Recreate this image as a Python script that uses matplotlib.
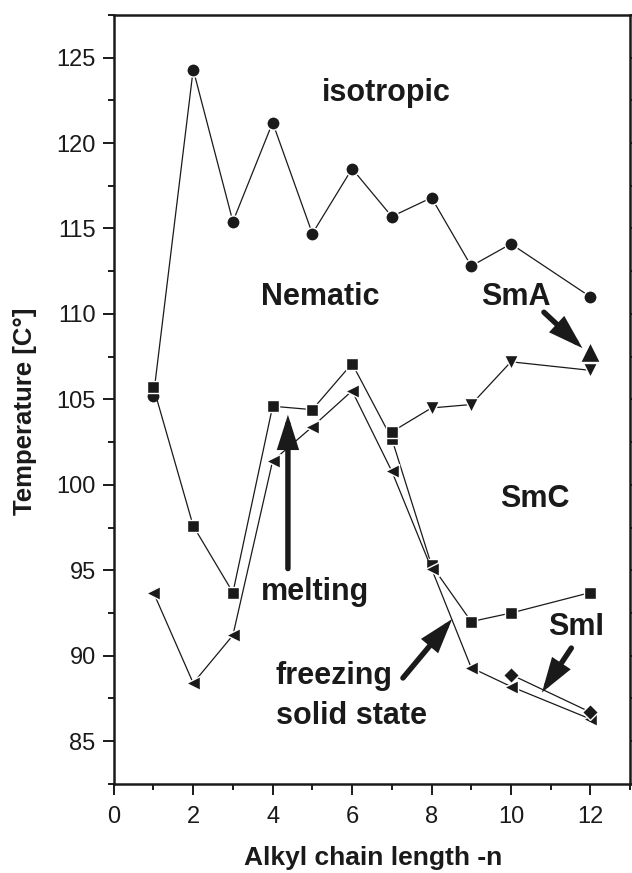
import matplotlib
matplotlib.use("Agg")
import matplotlib.pyplot as plt
from matplotlib.ticker import MultipleLocator

plt.rcParams['font.family'] = ['Liberation Sans', 'DejaVu Sans']

# Data
n_iso = [1, 2, 3, 4, 5, 6, 7, 8, 9, 10, 12]
t_iso = [105.2, 124.3, 115.4, 121.2, 114.7, 118.5, 115.7, 116.8, 112.8, 114.1, 111.0]

n_melt = [1, 2, 3, 4, 5, 6, 7, 8, 9, 10, 12]
t_melt = [105.7, 97.6, 93.7, 104.6, 104.4, 107.1, 102.7, 95.3, 92.0, 92.5, 93.7]

n_smc = [7, 8, 9, 10, 12]
t_smc = [103.1, 104.5, 104.7, 107.2, 106.7]

n_frz = [1, 2, 3, 4, 5, 6, 7, 8, 9, 10, 12]
t_frz = [93.7, 88.4, 91.2, 101.4, 103.4, 105.5, 100.8, 95.1, 89.3, 88.2, 86.3]

n_smi = [10, 12]
t_smi = [88.9, 86.7]

n_sma = [12]
t_sma = [107.8]

xticks = [0, 2, 4, 6, 8, 10, 12]
yticks = [85, 90, 95, 100, 105, 110, 115, 120, 125]

fig = plt.figure(figsize=(6.32, 8.73), dpi=100)
ax = fig.add_axes([0.180, 0.102, 0.817, 0.881])

lw = 0.9
C = '#1a1a1a'
mk = dict(mfc=C, mec='white', mew=1.0)

ax.plot(n_iso, t_iso, '-', color=C, lw=lw, marker='o', ms=9.5, **mk)
ax.plot(n_melt, t_melt, '-', color=C, lw=lw, marker='s', ms=8.5, **mk)
ax.plot(n_smc, t_smc, '-', color=C, lw=lw)
ax.plot(n_smc[:1], t_smc[:1], ls='none', marker='s', ms=8.5, **mk)
ax.plot(n_smc[1:], t_smc[1:], ls='none', marker='v', ms=10.5, **mk)
ax.plot(n_frz, t_frz, '-', color=C, lw=lw, marker='<', ms=10.5, **mk)
ax.plot(n_smi, t_smi, '-', color=C, lw=lw, marker='D', ms=8, **mk)
ax.plot(n_sma, t_sma, ls='none', marker='^', ms=15, **mk)

ax.set_xlim(0, 13)
ax.set_ylim(82.5, 127.5)
ax.set_xticks(xticks)
ax.set_yticks(yticks)
ax.xaxis.set_minor_locator(MultipleLocator(1))
ax.yaxis.set_minor_locator(MultipleLocator(2.5))
ax.tick_params(which='major', direction='out', length=8, width=1.4, labelsize=17, colors=C, right=True)
ax.tick_params(which='minor', direction='out', length=4.5, width=1.4, right=True, colors=C)
ax.tick_params(axis='x', pad=8)
ax.tick_params(axis='y', pad=5)
for s in ax.spines.values():
    s.set_linewidth(1.8)
    s.set_color(C)

fig.text(373 / 632, 1 - 858 / 873, 'Alkyl chain length -n', fontsize=19, fontweight='bold',
         ha='center', va='center', color=C)
fig.text(25 / 632, 1 - 411 / 873, 'Temperature [C°]', fontsize=18.5, fontweight='bold',
         ha='center', va='center', rotation=90, color=C)

tk = dict(fontsize=22, fontweight='bold', ha='center', va='center', color=C)
ax.text(6.85, 122.9, 'isotropic', **tk)
ax.text(5.2, 111.0, 'Nematic', **tk)
ax.text(10.12, 111.0, 'SmA', **tk)
ax.text(10.6, 99.2, 'SmC', **tk)
ax.text(5.06, 93.75, 'melting', **tk)
ax.text(5.55, 88.8, 'freezing', **tk)
ax.text(5.98, 86.45, 'solid state', **tk)
ax.text(11.65, 91.7, 'SmI', **tk)

ap = dict(arrowstyle='-|>,head_length=0.85,head_width=0.27', color=C, lw=3.9, shrinkA=0, shrinkB=0,
          mutation_scale=20, capstyle='round', joinstyle='miter')
ax.annotate('', xy=(4.385, 104.1), xytext=(4.385, 95.1), arrowprops=ap)
ax.annotate('', xy=(11.8, 108.0), xytext=(10.83, 110.1), arrowprops=ap)
ax.annotate('', xy=(8.52, 92.15), xytext=(7.28, 88.7), arrowprops=ap)
ax.annotate('', xy=(10.78, 87.85), xytext=(11.52, 90.45), arrowprops=ap)

fig.savefig('out.png', dpi=100)
